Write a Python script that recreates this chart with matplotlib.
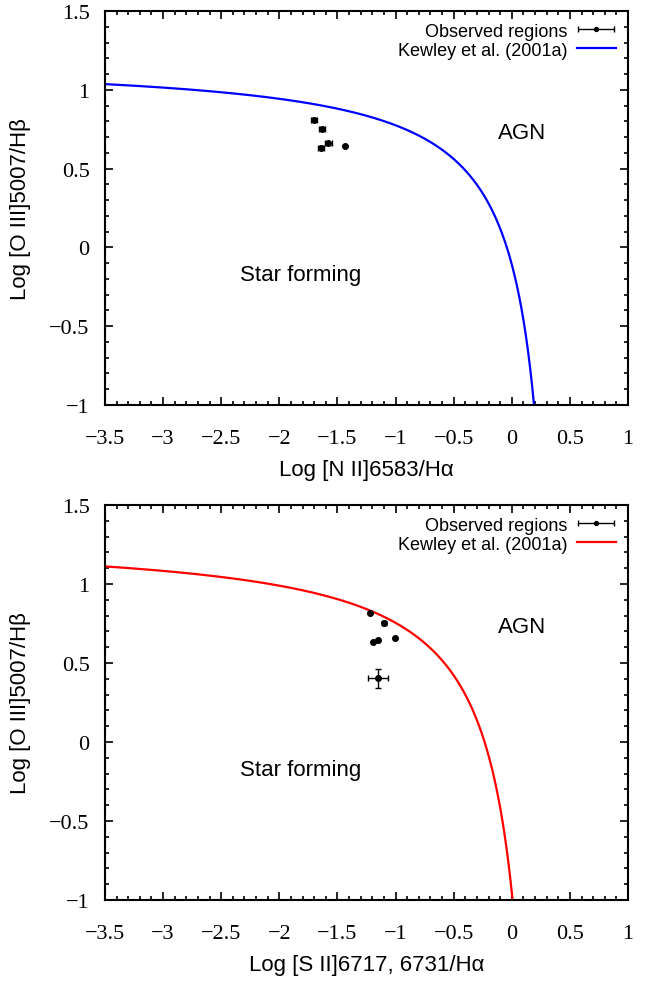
import numpy as np
import matplotlib
matplotlib.use('Agg')
import matplotlib.pyplot as plt
from matplotlib.ticker import MultipleLocator, FuncFormatter
from matplotlib.container import ErrorbarContainer
from matplotlib.legend_handler import HandlerErrorbar

# Observed regions: [N II] diagnostic
nii_x = [-1.70, -1.635, -1.578, -1.644, -1.432]
nii_y = [0.81, 0.753, 0.662, 0.633, 0.641]
nii_xerr = [0.025, 0.025, 0.03, 0.025, 0.0]
nii_yerr = [0.01, 0.01, 0.01, 0.01, 0.0]

# Observed regions: [S II] diagnostic
sii_x = [-1.222, -1.102, -1.153, -1.194, -1.001, -1.153]
sii_y = [0.815, 0.753, 0.644, 0.633, 0.66, 0.403]
sii_xerr = [0.0, 0.01, 0.0, 0.0, 0.0, 0.086]
sii_yerr = [0.0, 0.01, 0.0, 0.0, 0.0, 0.06]

# Kewley et al. (2001a) maximum starburst lines: y = a / (x - b) + c
kewley_nii = (0.61, 0.47, 1.19)
kewley_sii = (0.72, 0.32, 1.30)

serif = 'Liberation Serif'
sans = 'Liberation Sans'


def fmt(v, pos):
    return ('%g' % v).replace('-', '\u2212')


def panel(ax, x, y, xerr, yerr, coeffs, color, xlabel):
    a, b, c = coeffs
    xs = np.linspace(-3.5, b - 1e-3, 2000)
    ys = a / (xs - b) + c
    keep = ys >= -1.05
    eb = ax.errorbar(x, y, xerr=xerr, yerr=yerr, fmt='o', color='black', ms=4,
                     elinewidth=1, capsize=2, capthick=1)
    line, = ax.plot(xs[keep], ys[keep], color=color, lw=1.6)
    ax.set_xlim(-3.5, 1)
    ax.set_ylim(-1, 1.5)
    ax.xaxis.set_major_locator(MultipleLocator(0.5))
    ax.xaxis.set_minor_locator(MultipleLocator(0.1))
    ax.yaxis.set_major_locator(MultipleLocator(0.5))
    ax.yaxis.set_minor_locator(MultipleLocator(0.1))
    ax.xaxis.set_major_formatter(FuncFormatter(fmt))
    ax.yaxis.set_major_formatter(FuncFormatter(fmt))
    ax.tick_params(which='both', direction='in', top=True, right=True, width=1.2)
    ax.tick_params(which='major', length=6, labelsize=16)
    ax.tick_params(axis='x', which='major', pad=17)
    ax.tick_params(axis='y', which='major', pad=11)
    ax.tick_params(which='minor', length=3)
    for lab in ax.get_xticklabels() + ax.get_yticklabels():
        lab.set_family(serif)
    for sp in ax.spines.values():
        sp.set_linewidth(1.5)
    ax.set_xlabel(xlabel, family=sans, fontsize=16, labelpad=8)
    ax.set_ylabel('Log [O III]5007/H\u03b2', family=sans, fontsize=16, labelpad=13)
    ax.text(0.09, 0.73, 'AGN', family=sans, fontsize=16, ha='center', va='center')
    ax.text(-1.82, -0.175, 'Star forming', family=sans, fontsize=16,
            ha='center', va='center')

    # legend entry shows only the horizontal error bar
    obs = ErrorbarContainer(eb.lines, has_xerr=True, has_yerr=False)
    leg = ax.legend([obs, line], ['Observed regions', 'Kewley et al. (2001a)'],
                    handler_map={ErrorbarContainer: HandlerErrorbar(xerr_size=1.0)},
                    loc='upper right', frameon=False, markerfirst=False,
                    prop={'family': sans, 'size': 13}, handlelength=2.2,
                    markerscale=0.7, borderaxespad=0.25, labelspacing=0.1,
                    handletextpad=0.5)
    for t in leg.get_texts():
        t.set_ha('right')


fig = plt.figure(figsize=(6.53, 9.87), dpi=100)
ax1 = fig.add_axes([0.1608, 0.5887, 0.8009, 0.3991])
ax2 = fig.add_axes([0.1608, 0.0871, 0.8009, 0.4002])

panel(ax1, nii_x, nii_y, nii_xerr, nii_yerr, kewley_nii, '#0000ff',
      'Log [N II]6583/H\u03b1')
panel(ax2, sii_x, sii_y, sii_xerr, sii_yerr, kewley_sii, '#ff0000',
      'Log [S II]6717, 6731/H\u03b1')

fig.savefig('out.png', dpi=100)
